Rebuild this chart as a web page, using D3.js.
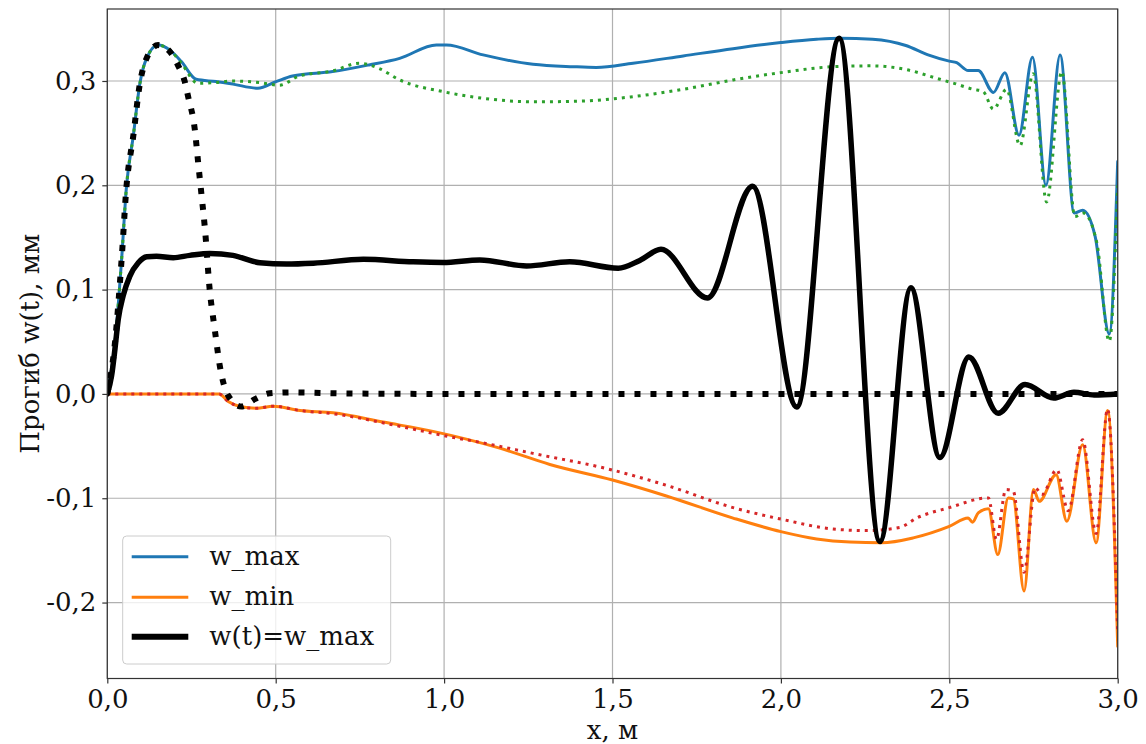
<!DOCTYPE html>
<html><head><meta charset="utf-8">
<script src="https://cdn.jsdelivr.net/npm/d3@7"></script>
<style>body{margin:0;background:#fff}svg{display:block}</style>
</head><body>
<svg id="c" width="1146" height="744"></svg>
<script>
// ---- data ----
const xTicks = [0, 0.5, 1.0, 1.5, 2.0, 2.5, 3.0];
const yTicks = [-0.2, -0.1, 0, 0.1, 0.2, 0.3];

const wMaxX = [0, 0.0227, 0.0425, 0.057, 0.077, 0.097, 0.1166, 0.151, 0.186, 0.22, 0.264, 0.323, 0.373, 0.447, 0.501, 0.55, 0.669, 0.777, 0.868, 0.977, 1.007, 1.116, 1.264, 1.383, 1.452, 1.561, 1.71, 1.858, 2.0, 2.106, 2.175, 2.272, 2.371, 2.437, 2.5, 2.522, 2.556, 2.586, 2.631, 2.665, 2.707, 2.747, 2.787, 2.829, 2.871, 2.896, 2.933, 2.975, 3.0];
const wMaxY = [0, 0.049, 0.129, 0.199, 0.247, 0.298, 0.3217, 0.3344, 0.3296, 0.3186, 0.3016, 0.2994, 0.297, 0.293, 0.2994, 0.3048, 0.309, 0.3154, 0.3217, 0.3345, 0.3345, 0.325, 0.316, 0.3137, 0.313, 0.317, 0.324, 0.331, 0.3368, 0.340, 0.341, 0.340, 0.334, 0.325, 0.319, 0.3175, 0.310, 0.310, 0.289, 0.308, 0.248, 0.3227, 0.200, 0.325, 0.1734, 0.176, 0.151, 0.0575, 0.2228];

const wMinX = [0, 0.332, 0.359, 0.394, 0.443, 0.4926, 0.572, 0.67, 0.819, 0.967, 1.165, 1.314, 1.5, 1.66, 1.858, 2.0, 2.106, 2.205, 2.299, 2.393, 2.5, 2.556, 2.569, 2.586, 2.616, 2.644, 2.675, 2.69, 2.722, 2.75, 2.767, 2.817, 2.849, 2.896, 2.936, 2.97, 3.0];
const wMinY = [0, 0, -0.0073, -0.012, -0.0137, -0.0117, -0.0159, -0.018, -0.027, -0.0359, -0.052, -0.0676, -0.0825, -0.0978, -0.119, -0.132, -0.139, -0.142, -0.1427, -0.138, -0.127, -0.119, -0.123, -0.114, -0.110, -0.154, -0.0997, -0.1006, -0.189, -0.0917, -0.103, -0.0774, -0.122, -0.0487, -0.1427, -0.016, -0.242];

const wMax2X = [0, 0.0227, 0.0425, 0.057, 0.077, 0.097, 0.1166, 0.151, 0.186, 0.22, 0.269, 0.323, 0.373, 0.452, 0.511, 0.57, 0.669, 0.748, 0.807, 0.868, 0.997, 1.116, 1.264, 1.413, 1.561, 1.71, 1.858, 2.0, 2.155, 2.272, 2.371, 2.472, 2.512, 2.571, 2.60, 2.631, 2.670, 2.71, 2.749, 2.789, 2.834, 2.873, 2.898, 2.938, 2.975, 3.0];
const wMax2Y = [0, 0.049, 0.129, 0.199, 0.247, 0.298, 0.3217, 0.3344, 0.3296, 0.317, 0.2978, 0.2985, 0.300, 0.2984, 0.296, 0.3048, 0.3096, 0.317, 0.312, 0.301, 0.2898, 0.2834, 0.280, 0.2808, 0.285, 0.292, 0.301, 0.308, 0.3137, 0.3145, 0.311, 0.3016, 0.298, 0.292, 0.290, 0.273, 0.292, 0.238, 0.307, 0.184, 0.309, 0.170, 0.1734, 0.145, 0.0505, 0.2];

const wMin2X = [0, 0.332, 0.359, 0.394, 0.443, 0.4926, 0.572, 0.67, 0.868, 1.0, 1.116, 1.264, 1.5, 1.66, 1.858, 2.0, 2.155, 2.254, 2.353, 2.403, 2.5, 2.616, 2.64, 2.668, 2.69, 2.722, 2.755, 2.775, 2.819, 2.853, 2.896, 2.936, 2.97, 3.0];
const wMin2Y = [0, 0, -0.0073, -0.012, -0.0137, -0.0117, -0.0159, -0.019, -0.031, -0.040, -0.047, -0.057, -0.073, -0.0876, -0.109, -0.12, -0.1295, -0.131, -0.128, -0.119, -0.109, -0.0997, -0.1395, -0.0917, -0.0933, -0.171, -0.090, -0.0965, -0.0726, -0.112, -0.044, -0.1338, -0.0146, -0.229];

const wtX = [0, 0.0128, 0.0227, 0.0326, 0.047, 0.067, 0.092, 0.117, 0.146, 0.196, 0.245, 0.304, 0.373, 0.453, 0.532, 0.612, 0.76, 0.908, 0.997, 1.106, 1.245, 1.373, 1.517, 1.581, 1.644, 1.782, 1.916, 2.047, 2.173, 2.294, 2.386, 2.472, 2.558, 2.645, 2.725, 2.81, 2.87, 2.93, 3.0];
const wtY = [0, 0.0175, 0.043, 0.0717, 0.094, 0.113, 0.1258, 0.1315, 0.132, 0.1306, 0.1328, 0.1347, 0.1328, 0.1258, 0.1245, 0.1253, 0.129, 0.1266, 0.126, 0.1285, 0.1227, 0.1266, 0.1205, 0.128, 0.1386, 0.092, 0.199, -0.0125, 0.341, -0.1415, 0.1017, -0.061, 0.0355, -0.0185, 0.009, -0.004, 0.0015, -0.001, 0];

const wt2X = [0, 0.0227, 0.0425, 0.057, 0.077, 0.097, 0.1166, 0.151, 0.186, 0.21, 0.23, 0.24, 0.26, 0.27, 0.28, 0.29, 0.304, 0.319, 0.334, 0.359, 0.398, 0.438, 0.482, 0.55, 0.7, 1.0, 3.0];
const wt2Y = [0, 0.049, 0.129, 0.199, 0.247, 0.298, 0.3217, 0.3344, 0.328, 0.315, 0.2994, 0.285, 0.253, 0.221, 0.19, 0.158, 0.100, 0.062, 0.027, -0.0016, -0.012, -0.005, 0.0006, 0.0015, 0.0005, 0, 0];

const legendLabels = ["w_max", "w_min", "w(t)=w_max"];

// ---- layout ----
const L = 107.3, R = 1117.7, T = 9, B = 678.5;
const FS = 26;
const svg = d3.select("#c");
const font = "'DejaVu Serif', serif";
const x = d3.scaleLinear().domain([0, 3]).range([L, R]);
const y = d3.scaleLinear().domain([-0.2728, 0.369]).range([B, T]);
const fmt = v => d3.format(".1f")(v).replace(".", ",").replace("−", "-");

// grid
const g = svg.append("g");
g.selectAll(".gx").data(xTicks).join("line")
  .attr("x1", d => x(d)).attr("x2", d => x(d)).attr("y1", T).attr("y2", B)
  .attr("stroke", "#b0b0b0").attr("stroke-width", 1.2);
g.selectAll(".gy").data(yTicks).join("line")
  .attr("y1", d => y(d)).attr("y2", d => y(d)).attr("x1", L).attr("x2", R)
  .attr("stroke", "#b0b0b0").attr("stroke-width", 1.2);

// lines
svg.append("clipPath").attr("id", "clip").append("rect")
  .attr("x", L).attr("y", T).attr("width", R - L).attr("height", B - T);
const plot = svg.append("g").attr("clip-path", "url(#clip)");
const line = d3.line().x(d => x(d[0])).y(d => y(d[1])).curve(d3.curveMonotoneX);
const zip = (a, b) => a.map((v, i) => [v, b[i]]);
const series = [
  {xs: wMaxX, ys: wMaxY, c: "#1f77b4", w: 3, dash: null},
  {xs: wMinX, ys: wMinY, c: "#ff7f0e", w: 3, dash: null},
  {xs: wMax2X, ys: wMax2Y, c: "#2ca02c", w: 3, dash: "3,5"},
  {xs: wMin2X, ys: wMin2Y, c: "#d62728", w: 3, dash: "3,5"},
  {xs: wtX, ys: wtY, c: "#000", w: 5.5, dash: null},
  {xs: wt2X, ys: wt2Y, c: "#000", w: 6, dash: "6,10"}
];
series.forEach(s => {
  plot.append("path").datum(zip(s.xs, s.ys)).attr("d", line)
    .attr("fill", "none").attr("stroke", s.c).attr("stroke-width", s.w)
    .attr("stroke-dasharray", s.dash).attr("stroke-linejoin", "round")
    .attr("stroke-linecap", s.dash ? "butt" : "round");
});

// axes
const xa = svg.append("g").attr("transform", `translate(0,${B})`)
  .call(d3.axisBottom(x).tickValues(xTicks).tickFormat(fmt).tickSize(5).tickPadding(6));
const ya = svg.append("g").attr("transform", `translate(${L},0)`)
  .call(d3.axisLeft(y).tickValues(yTicks).tickFormat(fmt).tickSize(5).tickPadding(6));
[xa, ya].forEach(a => {
  a.select(".domain").remove();
  a.selectAll("line").attr("stroke", "#333").attr("stroke-width", 1.2);
  a.selectAll("text").attr("font-family", font).attr("font-size", FS).attr("fill", "#111");
});
svg.append("rect").attr("x", L).attr("y", T).attr("width", R - L).attr("height", B - T)
  .attr("fill", "none").attr("stroke", "#333").attr("stroke-width", 1.2);

// axis labels
svg.append("text").attr("x", (L + R) / 2).attr("y", 739).attr("text-anchor", "middle")
  .attr("font-family", font).attr("font-size", FS).attr("fill", "#111").text("x, м");
svg.append("text").attr("transform", `translate(30,${(T + B) / 2}) rotate(-90)`)
  .attr("text-anchor", "middle").attr("dominant-baseline", "central")
  .attr("font-family", font).attr("font-size", FS).attr("fill", "#111").text("Прогиб w(t), мм");

// legend
const lg = svg.append("g");
lg.append("rect").attr("x", 122.7).attr("y", 536).attr("width", 268).attr("height", 128)
  .attr("rx", 4).attr("fill", "#fff").attr("fill-opacity", 0.8).attr("stroke", "#ccc").attr("stroke-width", 1);
const lgStyle = [{c: "#1f77b4", w: 3}, {c: "#ff7f0e", w: 3}, {c: "#000", w: 6}];
const lgY = [556.7, 597.3, 636.7];
legendLabels.forEach((t, i) => {
  lg.append("line").attr("x1", 131.7).attr("x2", 188.3).attr("y1", lgY[i]).attr("y2", lgY[i])
    .attr("stroke", lgStyle[i].c).attr("stroke-width", lgStyle[i].w);
  lg.append("text").attr("x", 209.3).attr("y", lgY[i]).attr("dy", "0.3em")
    .attr("font-family", font).attr("font-size", FS).attr("fill", "#111").text(t);
});
</script>
</body></html>
